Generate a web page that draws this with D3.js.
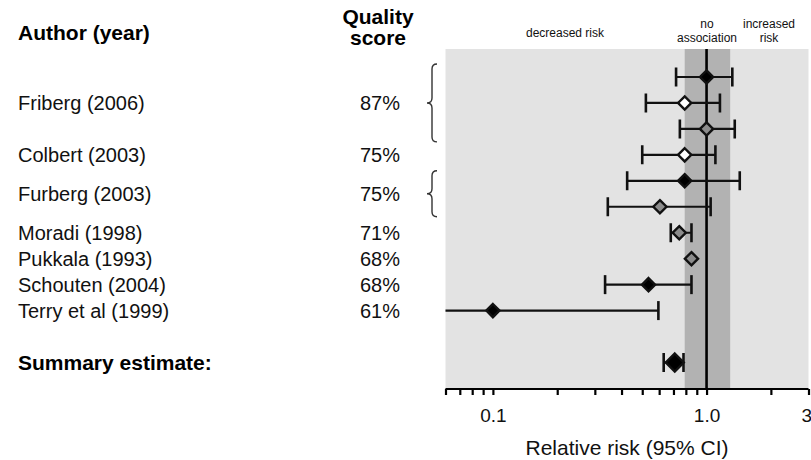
<!DOCTYPE html>
<html>
<head>
<meta charset="utf-8">
<script src="https://cdn.jsdelivr.net/npm/d3@7"></script>
<style>
  body { margin: 0; background: #fff; }
  svg { font-family: "Liberation Sans", Arial, sans-serif; }
</style>
</head>
<body>
<div class="svg-container"></div>
<script>
// one entry per estimate row
var estStudy = ["Friberg (2006)", "Friberg (2006)", "Friberg (2006)", "Colbert (2003)",
    "Furberg (2003)", "Furberg (2003)", "Moradi (1998)", "Pukkala (1993)",
    "Schouten (2004)", "Terry et al (1999)"];
var estRR   = [1.0, 0.79, 1.0, 0.79, 0.79, 0.605, 0.745, 0.85, 0.535, 0.1];
var estLow  = [0.72, 0.52, 0.75, 0.50, 0.425, 0.345, 0.68, null, 0.335, 0.03];
var estHigh = [1.32, 1.155, 1.355, 1.10, 1.43, 1.045, 0.85, null, 0.85, 0.595];
var estType = ["black", "white", "gray", "white", "black", "gray", "gray", "gray", "black", "black"];

var authors = ["Friberg (2006)", "Colbert (2003)", "Furberg (2003)", "Moradi (1998)",
    "Pukkala (1993)", "Schouten (2004)", "Terry et al (1999)"];
var scores = ["87%", "75%", "75%", "71%", "68%", "68%", "61%"];

var summaryRR = 0.71, summaryLow = 0.63, summaryHigh = 0.78;
var noAssocBand = [0.79, 1.29];

var axisDomain = [0.06, 3];
var majorTicks = [0.1, 1, 3];
var majorLabels = ["0.1", "1.0", "3"];
var minorTicks = [0.06, 0.07, 0.08, 0.09, 0.2, 0.3, 0.4, 0.5, 0.6, 0.7, 0.8, 0.9, 2];

var fills = { black: "#000", white: "#fff", gray: "#8c8c8c" };

var width = 811, height = 460;
var plotLeft = 445.5, plotRight = 808.5, plotTop = 49, plotBottom = 389;

var svg = d3.select(".svg-container").append("svg")
    .attr("width", width)
    .attr("height", height);

var x = d3.scaleLog().domain(axisDomain).range([plotLeft, plotRight]);
// row index -> y; summary sits two rows below the last study
var y = d3.scaleLinear().domain([0, 11]).range([77, 362.5]);
var summaryRow = estRR.length + 1;

// backgrounds
svg.append("rect")
    .attr("x", plotLeft).attr("y", plotTop)
    .attr("width", plotRight - plotLeft).attr("height", plotBottom - plotTop)
    .attr("fill", "#e3e3e3");
svg.append("rect")
    .attr("x", x(noAssocBand[0])).attr("y", plotTop)
    .attr("width", x(noAssocBand[1]) - x(noAssocBand[0])).attr("height", plotBottom - plotTop)
    .attr("fill", "#b2b2b2");
svg.append("line")
    .attr("x1", x(1)).attr("x2", x(1))
    .attr("y1", plotTop).attr("y2", plotBottom)
    .attr("stroke", "#000").attr("stroke-width", 2.6);

svg.append("clipPath").attr("id", "plotclip")
    .append("rect")
    .attr("x", plotLeft).attr("y", plotTop)
    .attr("width", plotRight - plotLeft).attr("height", plotBottom - plotTop);

// axis
var axis = d3.axisBottom(x)
    .tickValues(minorTicks.concat(majorTicks))
    .tickSize(6)
    .tickPadding(14)
    .tickFormat(function(d) {
        var i = majorTicks.indexOf(d);
        return i >= 0 ? majorLabels[i] : "";
    });
var gAxis = svg.append("g")
    .attr("transform", "translate(0," + plotBottom + ")")
    .call(axis);
gAxis.select(".domain").attr("stroke-width", 2).attr("d", "M" + plotLeft + ",0H" + plotRight);
gAxis.selectAll(".tick line").attr("stroke-width", 2.2);
gAxis.selectAll(".tick text")
    .style("font-size", "19px")
    .attr("fill", "#111")
    .attr("font-family", "Liberation Sans, Arial, sans-serif");
// last label sits at the right edge; keep it inside the page
gAxis.selectAll(".tick text")
    .filter(function(d) { return d == axisDomain[1]; })
    .attr("text-anchor", "end")
    .attr("dx", 3);

svg.append("text")
    .attr("x", 627).attr("y", 455)
    .style("text-anchor", "middle")
    .style("font-size", "21px")
    .attr("fill", "#111")
    .text("Relative risk (95% CI)");

// header over the plot
function header(lines, cx) {
    lines.forEach(function(t, i) {
        svg.append("text")
            .attr("x", cx)
            .attr("y", lines.length == 1 ? 37 : 28 + i * 14)
            .style("text-anchor", "middle")
            .style("font-size", "12px")
            .attr("fill", "#111")
            .text(t);
    });
}
header(["decreased risk"], 565);
header(["no", "association"], 707);
header(["increased", "risk"], 769);

// left columns
svg.append("text")
    .attr("x", 18).attr("y", 40)
    .style("font-size", "21px").style("font-weight", "bold")
    .text("Author (year)");
svg.append("text")
    .attr("x", 378).attr("y", 24)
    .style("text-anchor", "middle")
    .style("font-size", "21px").style("font-weight", "bold")
    .text("Quality");
svg.append("text")
    .attr("x", 378).attr("y", 45)
    .style("text-anchor", "middle")
    .style("font-size", "21px").style("font-weight", "bold")
    .text("score");

authors.forEach(function(a, i) {
    var rows = d3.range(estStudy.length).filter(function(r) { return estStudy[r] == a; });
    var ym = y(d3.mean(rows));
    svg.append("text")
        .attr("x", 18).attr("y", ym)
        .attr("dy", "0.35em")
        .style("font-size", "20px")
        .attr("fill", "#111")
        .text(a);
    svg.append("text")
        .attr("x", 400).attr("y", ym)
        .attr("dy", "0.35em")
        .style("text-anchor", "end")
        .style("font-size", "20px")
        .attr("fill", "#111")
        .text(scores[i]);
    if (rows.length > 1) {
        var pad = rows.length > 2 ? 13 : 10;
        var y0 = y(rows[0]) - pad, y1 = y(rows[rows.length - 1]) + pad;
        var xt = 427, xs = 432, xe = 437, mid = (y0 + y1) / 2;
        var p = "M" + xe + "," + y0 + " Q" + xs + "," + y0 + " " + xs + "," + (y0 + 5) +
            " L" + xs + "," + (mid - 5) + " Q" + xs + "," + mid + " " + xt + "," + mid +
            " Q" + xs + "," + mid + " " + xs + "," + (mid + 5) +
            " L" + xs + "," + (y1 - 5) + " Q" + xs + "," + y1 + " " + xe + "," + y1;
        svg.append("path").attr("d", p)
            .attr("fill", "none").attr("stroke", "#333").attr("stroke-width", 1.4);
    }
});

svg.append("text")
    .attr("x", 18).attr("y", y(summaryRow))
    .attr("dy", "0.35em")
    .style("font-size", "21px").style("font-weight", "bold")
    .text("Summary estimate:");

// estimates
var marks = svg.append("g").attr("clip-path", "url(#plotclip)");

function ciBar(row, lo, hi) {
    if (lo == null) return;
    var yy = y(row);
    marks.append("line")
        .attr("x1", x(lo)).attr("x2", x(hi))
        .attr("y1", yy).attr("y2", yy)
        .attr("stroke", "#111").attr("stroke-width", 2.2);
    [lo, hi].forEach(function(v) {
        if (v < axisDomain[0]) return;
        marks.append("line")
            .attr("x1", x(v)).attr("x2", x(v))
            .attr("y1", yy - 9.5).attr("y2", yy + 9.5)
            .attr("stroke", "#111").attr("stroke-width", 2.6);
    });
}

function diamond(row, v, r, fill) {
    var cx = x(v), cy = y(row);
    marks.append("path")
        .attr("d", "M" + cx + "," + (cy - r) + "L" + (cx + r) + "," + cy +
            "L" + cx + "," + (cy + r) + "L" + (cx - r) + "," + cy + "Z")
        .attr("fill", fill)
        .attr("stroke", "#111")
        .attr("stroke-width", 2.4);
}

estRR.forEach(function(v, i) {
    ciBar(i, estLow[i], estHigh[i]);
    diamond(i, v, 6.6, fills[estType[i]]);
});

ciBar(summaryRow, summaryLow, summaryHigh);
diamond(summaryRow, summaryRR, 9, "#000");
</script>
</body>
</html>
